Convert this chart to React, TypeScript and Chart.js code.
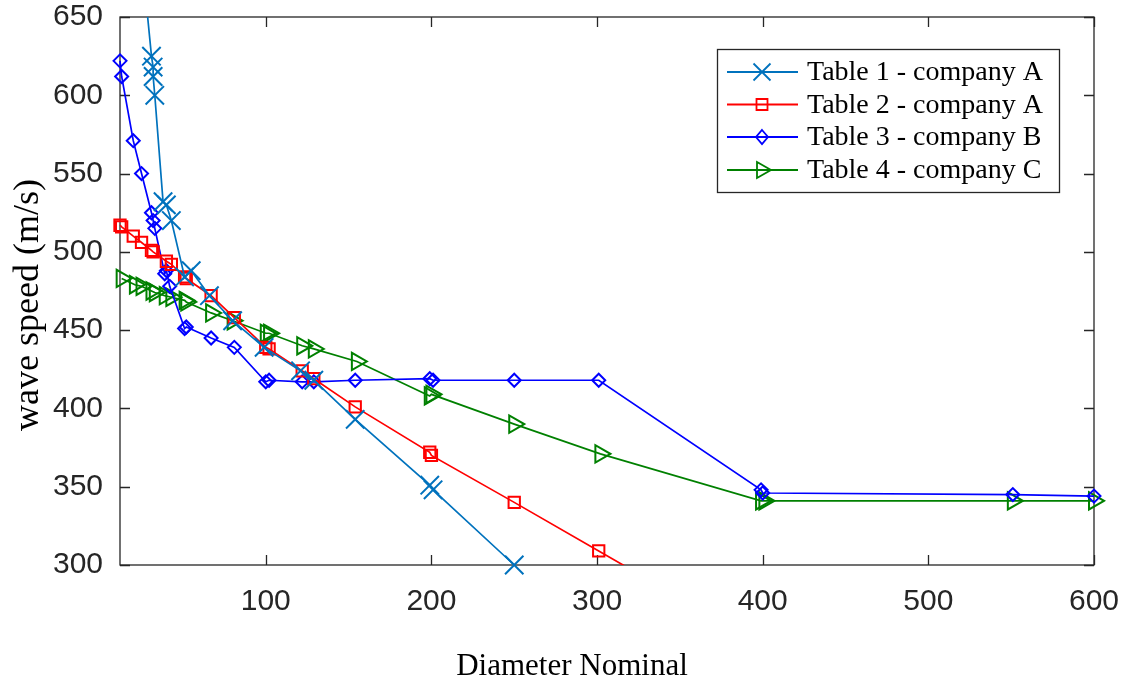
import React, { useEffect, useRef } from 'react';
import { Chart, registerables } from 'chart.js';

Chart.register(...registerables);

// ---- data ----
const xTickValues = [100, 200, 300, 400, 500, 600];
const yTickValues = [300, 350, 400, 450, 500, 550, 600, 650];

const seriesNames = ['Table 1 - company A', 'Table 2 - company A', 'Table 3 - company B', 'Table 4 - company C'];
const seriesColors = ['#0072BD', '#FF0000', '#0000FF', '#008000'];

const t1X = [25, 31, 32, 32, 33, 38, 40, 43, 51, 55, 66, 80, 99, 121, 129, 154, 199, 201, 250];
const t1Y = [690, 625, 618, 612, 600, 532, 530, 520, 484, 488, 472, 456, 439, 424, 418, 393, 351, 348, 300];

const t2X = [12, 13, 20, 25, 31, 32, 40, 43, 51, 52, 67, 81, 100, 102, 122, 129, 154, 199, 200, 250, 301, 350];
const t2Y = [517, 516, 510, 506, 501, 500, 494, 492, 484, 483, 472, 458, 439, 438, 424, 419, 401, 372, 370, 340, 309, 279];

const t3X = [12, 13, 20, 25, 31, 32, 33, 39, 40, 42, 51, 52, 67, 81, 100, 102, 122, 129, 154, 199, 201, 250, 301, 399, 400, 551, 600];
const t3Y = [622, 612, 571, 550, 525, 520, 515, 486, 488, 478, 451, 452, 445, 439, 417, 418, 417, 417, 418, 419, 418, 418, 418, 348, 346, 345, 344];

const t4X = [13, 21, 25, 31, 33, 39, 43, 51, 52, 67, 80, 100, 102, 122, 129, 155, 199, 200, 250, 302, 399, 401, 551, 600];
const t4Y = [483, 479, 478, 475, 474, 472, 471, 469, 468, 461, 456, 448, 448, 440, 438, 430, 408, 409, 390, 371, 341, 341, 341, 341];

const AXIS_COLOR = '#262626';

function pts(xs: number[], ys: number[]) {
  return xs.map((x, i) => ({ x, y: ys[i] }));
}

function drawLegendMarker(ctx: CanvasRenderingContext2D, idx: number, x: number, y: number) {
  ctx.beginPath();
  if (idx === 0) {
    const d = 8.5;
    ctx.moveTo(x - d, y - d); ctx.lineTo(x + d, y + d);
    ctx.moveTo(x - d, y + d); ctx.lineTo(x + d, y - d);
  } else if (idx === 1) {
    ctx.rect(x - 5.5, y - 5.5, 11, 11);
  } else if (idx === 2) {
    ctx.moveTo(x, y - 7); ctx.lineTo(x + 6, y); ctx.lineTo(x, y + 7); ctx.lineTo(x - 6, y); ctx.closePath();
  } else {
    ctx.moveTo(x - 5, y - 8); ctx.lineTo(x + 9, y); ctx.lineTo(x - 5, y + 8); ctx.closePath();
  }
  ctx.stroke();
}

const zeroPad = (s: any) => {
  s.paddingTop = 0;
  s.paddingBottom = 0;
  s.paddingLeft = 0;
  s.paddingRight = 0;
};

const framePlugin = {
  id: 'framePlugin',
  beforeDatasetsDraw(chart: any) {
    const { ctx, chartArea: a, scales } = chart;
    ctx.save();
    ctx.strokeStyle = AXIS_COLOR;
    ctx.lineWidth = 1.3;
    ctx.strokeRect(a.left, a.top, a.right - a.left, a.bottom - a.top);
    const tl = 10;
    ctx.beginPath();
    xTickValues.forEach((v) => {
      const px = Math.round(scales.x.getPixelForValue(v)) + 0.5;
      ctx.moveTo(px, a.bottom); ctx.lineTo(px, a.bottom - tl);
      ctx.moveTo(px, a.top); ctx.lineTo(px, a.top + tl);
    });
    yTickValues.forEach((v) => {
      const py = Math.round(scales.y.getPixelForValue(v)) + 0.5;
      ctx.moveTo(a.left, py); ctx.lineTo(a.left + tl, py);
      ctx.moveTo(a.right, py); ctx.lineTo(a.right - tl, py);
    });
    ctx.stroke();
    ctx.restore();
  },
  afterDraw(chart: any) {
    const { ctx } = chart;
    ctx.save();
    // axis titles
    ctx.fillStyle = '#000000';
    ctx.font = '31px "Liberation Serif", "Times New Roman", serif';
    ctx.textAlign = 'center';
    ctx.textBaseline = 'middle';
    ctx.fillText('Diameter Nominal', 572, 667);
    ctx.save();
    ctx.translate(29, 305);
    ctx.rotate(-Math.PI / 2);
    ctx.font = '36px "Liberation Serif", "Times New Roman", serif';
    ctx.fillText('wave speed (m/s)', 0, 0);
    ctx.restore();

    // legend
    const bx = 717, by = 49, bw = 342, bh = 143;
    ctx.fillStyle = '#ffffff';
    ctx.fillRect(bx, by, bw, bh);
    ctx.strokeStyle = AXIS_COLOR;
    ctx.lineWidth = 1.3;
    ctx.strokeRect(bx + 0.5, by + 0.5, bw, bh);
    const rows = [72, 104.5, 137, 170];
    ctx.font = '28px "Liberation Serif", "Times New Roman", serif';
    ctx.textAlign = 'left';
    ctx.textBaseline = 'middle';
    seriesNames.forEach((name, i) => {
      const ry = rows[i];
      ctx.strokeStyle = seriesColors[i];
      ctx.lineWidth = 1.8;
      ctx.beginPath();
      ctx.moveTo(727, ry); ctx.lineTo(798, ry);
      ctx.stroke();
      drawLegendMarker(ctx, i, 762, ry);
      ctx.fillStyle = '#000000';
      ctx.fillText(name, 807, ry + 1);
    });
    ctx.restore();
  },
};

export default function App() {
  const canvasRef = useRef<HTMLCanvasElement | null>(null);

  useEffect(() => {
    document.body.style.margin = '0';
    const canvas = canvasRef.current;
    if (!canvas) return;

    const common = {
      showLine: true,
      borderWidth: 1.7,
      pointBorderWidth: 2,
      pointBackgroundColor: 'rgba(0,0,0,0)',
      pointHoverRadius: 0,
      tension: 0,
    };

    const chart = new Chart(canvas, {
      type: 'scatter',
      data: {
        datasets: [
          {
            ...common,
            label: seriesNames[0],
            data: pts(t1X, t1Y),
            borderColor: seriesColors[0],
            pointBorderColor: seriesColors[0],
            pointStyle: 'crossRot',
            pointRadius: 13,
            clip: { left: 12, top: 0, right: 12, bottom: 12 },
          },
          {
            ...common,
            label: seriesNames[1],
            data: pts(t2X, t2Y),
            borderColor: seriesColors[1],
            pointBorderColor: seriesColors[1],
            pointStyle: 'rect',
            pointRadius: 8,
            clip: { left: 12, top: 0, right: 12, bottom: 0 },
          },
          {
            ...common,
            label: seriesNames[2],
            data: pts(t3X, t3Y),
            borderColor: seriesColors[2],
            pointBorderColor: seriesColors[2],
            pointStyle: 'rectRot',
            pointRadius: 6.5,
            clip: { left: 12, top: 0, right: 12, bottom: 0 },
          },
          {
            ...common,
            label: seriesNames[3],
            data: pts(t4X, t4Y),
            borderColor: seriesColors[3],
            pointBorderColor: seriesColors[3],
            pointStyle: 'triangle',
            pointRotation: 90,
            pointRadius: 10,
            clip: { left: 12, top: 0, right: 14, bottom: 0 },
          },
        ] as any,
      },
      options: {
        animation: false,
        responsive: false,
        events: [],
        layout: { autoPadding: false, padding: { left: 0, top: 17, right: 35, bottom: 0 } },
        plugins: {
          legend: { display: false },
          tooltip: { enabled: false },
        },
        scales: {
          x: {
            type: 'linear',
            min: 12,
            max: 600,
            grid: { display: false },
            border: { display: false },
            afterBuildTicks: (s: any) => {
              s.ticks = xTickValues.map((v) => ({ value: v }));
            },
            afterFit: (s: any) => {
              s.height = 121;
              zeroPad(s);
            },
            ticks: {
              color: AXIS_COLOR,
              font: { family: '"Liberation Sans", Arial, sans-serif', size: 30 },
              padding: 11,
              maxRotation: 0,
              autoSkip: false,
            },
          },
          y: {
            type: 'linear',
            min: 300,
            max: 650,
            grid: { display: false },
            border: { display: false },
            afterBuildTicks: (s: any) => {
              s.ticks = yTickValues.map((v) => ({ value: v }));
            },
            afterFit: (s: any) => {
              s.width = 120;
              zeroPad(s);
            },
            ticks: {
              color: AXIS_COLOR,
              font: { family: '"Liberation Sans", Arial, sans-serif', size: 30 },
              padding: 9,
              autoSkip: false,
            },
          },
        },
      } as any,
      plugins: [framePlugin],
    });

    return () => {
      chart.destroy();
    };
  }, []);

  return (
    <div style={{ width: 1129, height: 686 }}>
      <canvas ref={canvasRef} width={1129} height={686} style={{ display: 'block' }} />
    </div>
  );
}
